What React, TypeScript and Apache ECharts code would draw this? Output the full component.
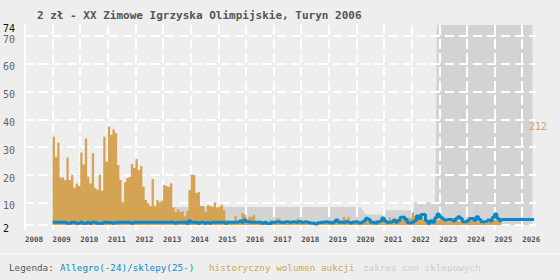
import React, { useEffect, useRef } from 'react';
import * as echarts from 'echarts';

const TITLE = '2 zł - XX Zimowe Igrzyska Olimpijskie, Turyn 2006';
const START_YEAR = 2009; // monthly series start (January 2009)

// historical auction volume per month (pieces), Jan 2009 .. Mar 2025
const volume = [
  190, 147, 177, 102, 102, 97, 145, 97, 108, 80, 89, 84, 156, 130, 186, 104, 89, 154, 80, 76, 108, 74, 190, 136, 212,
  194, 206, 198, 129, 97, 49, 92, 101, 103, 131, 123, 142, 118, 127, 82, 54, 47, 41, 99, 41, 54, 49, 52, 86, 84, 82,
  90, 37, 28, 34, 28, 30, 19, 30, 75, 108, 108, 69, 71, 41, 41, 28, 43, 41, 39, 49, 37, 39, 43, 32, 11, 9,
  8, 6, 20, 7, 6, 26, 22, 8, 18, 18, 22, 9,
  7, 6, 8, 5, 7, 11, 6, 7, 14, 14, 6, 8,
  5, 7, 6, 8, 9, 14, 7, 5, 6, 8, 5, 4,
  7, 6, 5, 8, 6, 7, 5, 6, 8, 7, 9, 6,
  10, 18, 12, 17, 8, 6, 10, 7, 5, 6, 8, 7,
  9, 6, 8, 10, 7, 9, 12, 10, 8, 16, 11, 9,
  12, 14, 10, 12, 9, 16, 14, 27, 20, 18, 22, 17,
  12, 10, 8, 11, 9, 8, 10, 12, 11, 9, 7, 8,
  11, 12, 10, 7, 9, 6, 8, 7, 9, 8, 11, 7,
  6, 8, 7, 9, 6, 8, 11, 12, 10, 9,
];

// Allegro price per month (zł), Jan 2009 .. Mar 2025
const allegroPrice = [
  3.0, 3.0, 3.0, 3.0, 3.0, 3.0, 2.6, 2.6, 3.0, 3.0, 2.6, 2.6,
  3.0, 2.6, 2.6, 3.0, 2.6, 3.0, 3.0, 2.6, 2.6, 2.6, 3.0, 3.0,
  2.8, 3.0, 2.6, 3.0, 3.0, 3.0, 3.0, 3.0, 3.0, 3.0, 2.6, 3.0,
  3.0, 3.0, 3.0, 3.0, 3.0, 3.0, 3.0, 3.0, 3.0, 3.0, 3.0, 3.0,
  3.0, 3.0, 3.0, 3.0, 3.0, 2.6, 3.0, 3.0, 3.0, 3.0, 2.6, 3.5,
  3.0, 3.0, 3.0, 2.6, 3.0, 3.0, 2.6, 3.0, 2.6, 3.0, 3.0, 3.0,
  3.0, 3.0, 3.0, 2.6, 3.0, 3.0, 3.0, 3.0, 3.0, 3.4, 3.0, 3.8,
  3.2, 3.0, 3.0, 3.0, 3.0, 3.0, 3.0, 2.6, 3.0, 2.5, 2.5, 3.0,
  3.0, 3.2, 3.0, 3.0, 2.8, 3.2, 3.0, 3.0, 3.2, 3.0, 3.0, 3.3,
  3.0, 3.2, 3.0, 2.8, 2.6, 2.7, 2.4, 2.8, 3.0, 3.0, 3.2, 3.0,
  3.0, 2.7, 3.2, 3.8, 3.0, 3.0, 2.8, 3.2, 3.0, 2.7, 3.0, 3.2,
  3.0, 2.7, 3.0, 3.4, 4.4, 4.0, 3.0, 3.0, 2.6, 3.2, 3.4, 4.5,
  3.5, 3.0, 3.0, 3.2, 3.8, 3.0, 3.6, 4.8, 4.9, 4.0, 2.8, 2.7,
  3.0, 3.5, 5.2, 4.3, 5.8, 5.8, 3.5, 2.6, 3.5, 3.0, 4.5, 6.0,
  5.0, 4.3, 3.8, 4.0, 4.0, 3.8, 3.4, 4.3, 5.0, 4.3, 3.2, 3.2,
  3.5, 4.3, 4.3, 3.6, 5.0, 4.0, 3.2, 3.2, 3.4, 3.8, 3.4, 4.8,
  6.0, 4.3, 3.5,
];

// shop price from 2025 on
const shopDates = [2025.25, 2026.43];
const shopPrice = [4.0, 4.0];

// upper edge of the shop price range
const bandDates = [2013.25, 2020.17, 2020.33, 2021.0, 2021.06, 2022.06, 2022.11, 2022.84, 2022.87, 2022.9, 2022.95, 2026.37];
const bandMax = [8.5, 8.5, 5.8, 5.8, 7.3, 7.3, 10.3, 10.3, 26, 58, 200, 200];

const yearTicks = [2008, 2009, 2010, 2011, 2012, 2013, 2014, 2015, 2016, 2017, 2018, 2019, 2020, 2021, 2022, 2023, 2024, 2025, 2026];
const yGridValues = [2, 10, 20, 30, 40, 50, 60, 70];
const yLabelValues = [2, 10, 20, 30, 40, 50, 60, 70, 74];
const volumeLabelValues = [212];

const legendLabels = ['Legenda:', 'Allegro(-24)/sklepy(25-)', 'historyczny wolumen aukcji', 'zakres cen sklepowych'];

const FONT = '"DejaVu Sans Mono", monospace';
const ORANGE = '#d5a354';
const BLUE = '#0a88c9';
const BAND = '#d3d3d3';

export default function App() {
  const ref = useRef<HTMLDivElement>(null);
  useEffect(() => {
    document.body.style.margin = '0';
    const chart = echarts.init(ref.current as HTMLDivElement, null, { renderer: 'svg' });

    const volData: number[][] = volume.map((v, i) => [START_YEAR + i / 12, v]);
    volData.push([START_YEAR + volume.length / 12, volume[volume.length - 1]]);

    const priceData: number[][] = allegroPrice.map((v, i) => [START_YEAR + i / 12, v]);
    shopDates.forEach((d, i) => priceData.push([d, shopPrice[i]]));

    const bandData = bandDates.map((d, i) => [d, bandMax[i]]);

    const legendX = [9, 60, 209, 363];
    const legendColors = ['#555555', BLUE, ORANGE, '#cccccc'];

    chart.setOption({
      animation: false,
      backgroundColor: '#eeeeee',
      textStyle: { fontFamily: FONT },
      title: {
        text: TITLE,
        left: 32,
        top: 5,
        textStyle: { fontSize: 11, fontWeight: 'bold', color: '#555555', fontFamily: FONT },
      },
      grid: { left: 25, right: 24, top: 25, bottom: 55 },
      xAxis: {
        type: 'value',
        min: 2008,
        max: 2026.5,
        axisLine: { show: false },
        axisTick: { show: true, customValues: yearTicks, length: 5, lineStyle: { color: '#ffffff', width: 2 } },
        axisLabel: {
          customValues: yearTicks,
          formatter: (v: number) => String(v),
          align: 'left',
          color: '#555555',
          fontSize: 7.5,
          fontWeight: 'bold',
          fontFamily: FONT,
          margin: 10,
        },
        splitLine: { show: true, lineStyle: { color: '#ffffff', width: 2, type: [10, 4] } },
      },
      yAxis: [
        {
          type: 'value',
          min: 2,
          max: 74,
          position: 'left',
          axisLine: { show: true, lineStyle: { color: '#ffffff', width: 2 } },
          axisTick: { show: false, customValues: yGridValues },
          axisLabel: {
            customValues: yLabelValues,
            align: 'left',
            margin: 22,
            verticalAlign: 'middle',
            padding: [6, 0, 0, 0],
            formatter: (v: number) => (v === 2 || v === 74 ? `{k|${v}}` : `{g|${v}}`),
            rich: {
              k: { color: '#111111', fontSize: 10, fontFamily: FONT },
              g: { color: '#666666', fontSize: 10, fontFamily: FONT },
            },
          },
          splitLine: { show: true, lineStyle: { color: '#ffffff', width: 2, type: [9, 5] } },
        },
        {
          type: 'value',
          min: 0,
          max: 430,
          position: 'right',
          axisLine: { show: false },
          axisTick: { show: false },
          splitLine: { show: false },
          axisLabel: {
            customValues: volumeLabelValues,
            color: ORANGE,
            fontSize: 10,
            fontFamily: FONT,
            align: 'left',
            margin: -7,
            verticalAlign: 'middle',
            padding: [5, 0, 0, 0],
          },
        },
      ],
      series: [
        {
          name: 'zakres cen sklepowych',
          type: 'line',
          yAxisIndex: 0,
          z: -1,
          data: bandData,
          symbol: 'none',
          lineStyle: { width: 0 },
          areaStyle: { color: BAND, opacity: 1, origin: 'start' },
          clip: true,
        },
        {
          name: 'historyczny wolumen aukcji',
          type: 'line',
          yAxisIndex: 1,
          z: 2,
          step: 'end',
          data: volData,
          symbol: 'none',
          lineStyle: { width: 0 },
          areaStyle: { color: ORANGE, opacity: 1 },
        },
        {
          name: 'Allegro/sklepy',
          type: 'line',
          yAxisIndex: 0,
          z: 3,
          step: 'end',
          data: priceData,
          symbol: 'none',
          lineStyle: { color: BLUE, width: 3 },
        },
      ],
      graphic: [
        { type: 'line', shape: { x1: 0, y1: 254, x2: 560, y2: 254 }, style: { stroke: '#ffffff', lineWidth: 1 } },
        ...legendLabels.map((t, i) => ({
          type: 'text',
          x: legendX[i],
          y: 267,
          style: { text: t, fill: legendColors[i], font: `9.3px ${FONT}`, verticalAlign: 'middle' },
        })),
      ],
    });
    return () => chart.dispose();
  }, []);
  return <div ref={ref} style={{ width: 560, height: 280 }} />;
}
